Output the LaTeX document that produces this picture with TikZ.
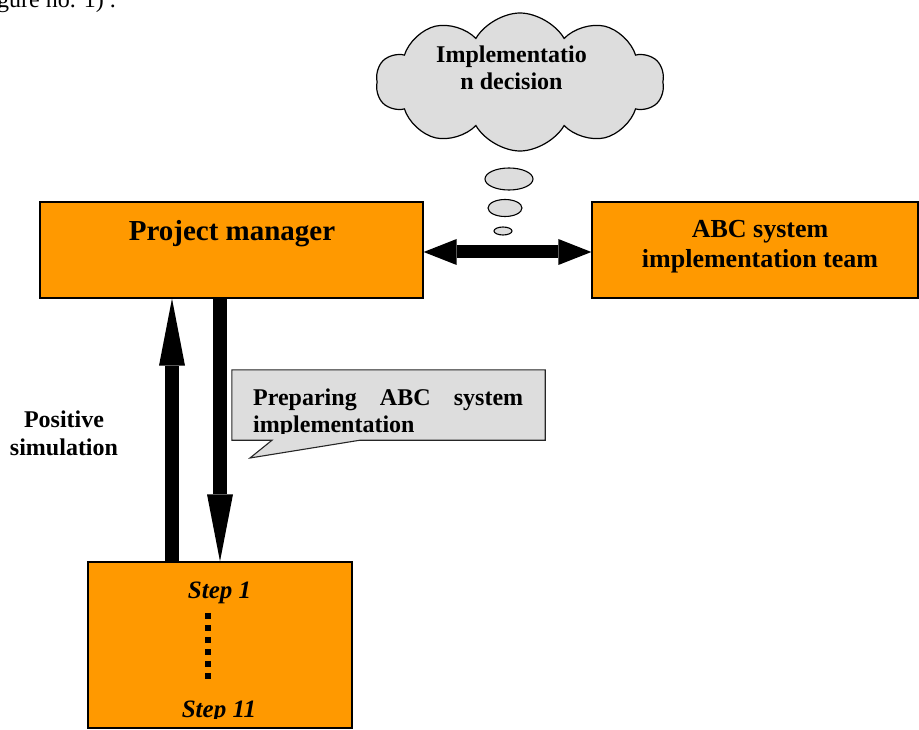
\documentclass[tikz,border=0pt]{standalone}
\usepackage{fontspec}
\setmainfont{Liberation Serif}
\usetikzlibrary{arrows.meta,shapes.symbols,shapes.geometric}
\definecolor{orng}{HTML}{FF9900}
\definecolor{lgray}{HTML}{DDDDDD}
\begin{document}
\begin{tikzpicture}[x=1pt,y=-1pt,
  box/.style={draw=black, line width=1.3pt, fill=orng, inner sep=0pt},
  txt/.style={font=\bfseries\fontsize{24}{27}\selectfont, inner sep=0pt, anchor=base},
  fat/.style={line width=14pt, -{Triangle[length=67pt,width=26pt,line width=0pt]}},
  dbl/.style={line width=13pt, {Triangle[length=33pt,width=26pt,line width=0pt]}-{Triangle[length=33pt,width=26pt,line width=0pt]}},
  bubble/.style={draw=black, line width=1.1pt, fill=lgray, ellipse, inner sep=0pt},
]
\useasboundingbox (0,0) rectangle (919,730);

% caption fragment at top
\node[font=\fontsize{24}{27}\selectfont, inner sep=0pt, anchor=base west] (cap) at (-3,8) {gure no. 1) .};

% boxes
\node[box, minimum width=383pt, minimum height=96pt] (pm) at (231.5,250) {};
\node[box, minimum width=326pt, minimum height=96pt] (abc) at (755,250) {};
\node[box, minimum width=264pt, minimum height=166pt] (steps) at (220,645) {};

\node[txt, font=\bfseries\fontsize{29}{32}\selectfont] (pmt) at (232,241) {Project manager};
\node[txt, font=\bfseries\fontsize{26}{29}\selectfont] (abct1) at (760,238) {ABC system};
\node[txt, font=\bfseries\fontsize{26}{29}\selectfont] (abct2) at (760,268) {implementation team};

% cloud and thought bubbles
\node[cloud, draw=black, line width=1.2pt, fill=lgray, cloud puffs=10, cloud puff arc=120,
      aspect=2, minimum width=288pt, minimum height=138pt, inner sep=0pt] (cloud) at (520,82) {};
\node[txt] (cl1) at (511.5,63) {Implementatio};
\node[txt] (cl2) at (511.5,90) {n decision};
\node[bubble, minimum width=48pt, minimum height=22pt] (b1) at (509,179) {};
\node[bubble, minimum width=34pt, minimum height=17pt] (b2) at (505,208) {};
\node[bubble, minimum width=18pt, minimum height=8pt] (b3) at (503,231) {};

% double arrow
\draw[dbl] ([yshift=-2pt]pm.east) -- ([yshift=-2pt]abc.west);

% vertical arrows
\coordinate (xu) at (172,0);
\coordinate (xd) at (220,0);
\draw[fat] (steps.north -| xu) -- (pm.south -| xu);
\draw[fat] (pm.south -| xd) -- (steps.north -| xd);

% positive simulation
\node[txt] (ps1) at (64,427) {Positive};
\node[txt] (ps2) at (64,455) {simulation};

% callout
\node[minimum width=313pt, minimum height=70pt, inner sep=0pt] (cb) at (388.5,405) {};
\coordinate (tip) at (250,458);
\coordinate (px1) at (272,0);
\coordinate (px2) at (360,0);
\filldraw[fill=lgray, draw=black!85, line width=1.1pt]
  (cb.north west) -- (cb.north east) -- (cb.south east) -- (cb.south east -| px2)
  -- (tip) -- (cb.south west -| px1) -- (cb.south west) -- cycle;
\begin{scope}
  \clip (232,371) rectangle (545,433);
  \node[txt, anchor=base west] (co1) at (253,405) {\makebox[270pt][s]{Preparing ABC system}};
  \node[txt, anchor=base west] (co2) at (253,432) {implementation};
\end{scope}

% steps
\node[txt, font=\bfseries\itshape\fontsize{25}{28}\selectfont] (s1) at (219.5,598) {Step 1};
\draw[line width=6pt, dash pattern=on 6pt off 6pt] (208,613) -- (208,679);
\begin{scope}
  \clip (90,560) rectangle (350,718);
  \node[txt, font=\bfseries\itshape\fontsize{25}{28}\selectfont] (s11) at (219,717) {Step 11};
\end{scope}
\end{tikzpicture}
\end{document}
